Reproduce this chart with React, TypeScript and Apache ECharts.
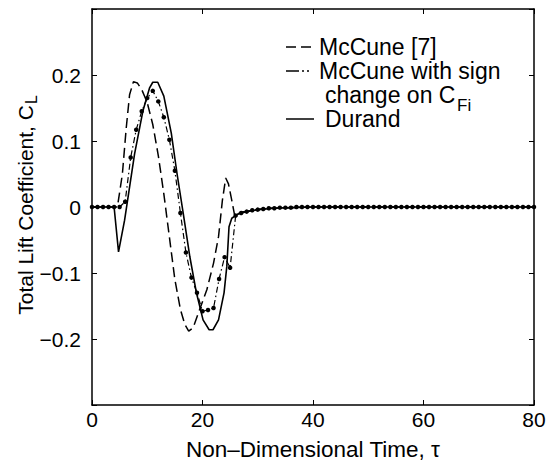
import React, { useEffect, useRef } from "react";
import * as echarts from "echarts";

const FONT = '"Liberation Sans", Arial, Helvetica, sans-serif';

const xTicks = [0, 20, 40, 60, 80];
const yTicks = [-0.2, -0.1, 0, 0.1, 0.2];

// McCune [7] (dashed)
const mccune: [number, number][] = [
  [0, 0], [4.6, 0], [5.5, 0.05], [6.2, 0.12], [6.8, 0.17], [7.5, 0.19], [8.2, 0.188],
  [9, 0.178], [10, 0.158], [11, 0.125], [12, 0.078], [13, 0.02], [14, -0.045],
  [15, -0.11], [16, -0.155], [16.8, -0.178], [17.5, -0.188], [18.3, -0.183],
  [19.5, -0.155], [20.8, -0.125], [22, -0.085], [22.9, -0.045], [23.6, 0.01],
  [24.2, 0.044], [24.7, 0.035], [25.3, 0.01], [25.8, -0.012], [27, -0.008],
  [29, -0.005], [32, -0.002], [36, -0.001], [40, 0], [80, 0],
];

// McCune with sign change on C_Fi (dash-dot with dots), one point per unit of tau
const signTau: number[] = [
  0, 1, 2, 3, 4, 5, 6, 7, 8, 9, 10, 11, 12, 13, 14, 15, 16, 17, 18, 19, 20,
  21, 22, 23, 24, 25, 26, 27, 28, 29, 30, 31, 32, 33, 34, 35, 36, 37, 38, 39, 40,
  41, 42, 43, 44, 45, 46, 47, 48, 49, 50, 51, 52, 53, 54, 55, 56, 57, 58, 59, 60,
  61, 62, 63, 64, 65, 66, 67, 68, 69, 70, 71, 72, 73, 74, 75, 76, 77, 78, 79, 80,
];
const signCL: number[] = [
  0, 0, 0, 0, 0, 0, 0.008, 0.075, 0.117, 0.145, 0.165, 0.176, 0.16, 0.136, 0.102, 0.055,
  -0.009, -0.069, -0.107, -0.13, -0.158, -0.156, -0.153, -0.109, -0.076, -0.092,
  -0.013, -0.009, -0.007, -0.005, -0.004, -0.003, -0.002, -0.002, -0.001, -0.001, -0.001,
  0, 0, 0, 0,
  0, 0, 0, 0, 0, 0, 0, 0, 0, 0, 0, 0, 0, 0, 0, 0, 0, 0, 0, 0,
  0, 0, 0, 0, 0, 0, 0, 0, 0, 0, 0, 0, 0, 0, 0, 0, 0, 0, 0, 0,
];

// Durand (solid)
const durand: [number, number][] = [
  [0, 0], [4, 0], [4.8, -0.068], [5.9, -0.02], [7.7, 0.08], [9.2, 0.145], [10.4, 0.18],
  [11, 0.189], [11.9, 0.189], [13, 0.168], [14.35, 0.112], [15.4, 0.05], [16.5, -0.009],
  [17.7, -0.075], [18.9, -0.13], [20.1, -0.171], [21.2, -0.186], [21.9, -0.186],
  [22.9, -0.171], [23.9, -0.13], [24.4, -0.09], [24.8, -0.03], [25.3, -0.017],
  [26.5, -0.01], [28, -0.007], [30, -0.004], [33, -0.002], [36, -0.001], [40, 0], [80, 0],
];

const legendLabels = ["McCune [7]", "McCune with sign", "change on C", "Fi", "Durand"];
const yTitle = "Total Lift Coefficient, C";
const yTitleSub = "L";
const xTitle = "Non\u2013Dimensional Time, \u03c4";

function fmtY(v: number): string {
  const r = Math.round(v * 10) / 10;
  if (!yTicks.some((t) => Math.abs(t - r) < 1e-9)) return "";
  if (r === 0) return "0";
  return r < 0 ? "\u2212" + Math.abs(r).toFixed(1) : r.toFixed(1);
}

function fmtX(v: number): string {
  return xTicks.includes(Math.round(v)) ? String(Math.round(v)) : "";
}

export default function App() {
  const ref = useRef<HTMLDivElement>(null);

  useEffect(() => {
    if (!ref.current) return;
    const chart = echarts.init(ref.current, null, { renderer: "svg" });
    const black = "#000";
    const axisCommon = {
      axisLine: { show: true, onZero: false, lineStyle: { color: black, width: 1.5 } },
      axisTick: { show: true, inside: true, length: 5, lineStyle: { color: black, width: 1 } },
      splitLine: { show: false },
    };
    const textBase = { fontFamily: FONT, fill: black };

    chart.setOption({
      animation: false,
      backgroundColor: "#fff",
      grid: { left: 92, right: 15, top: 9, bottom: 64, containLabel: false, outerBoundsMode: "none" },
      xAxis: [
        {
          type: "value",
          min: 0,
          max: 80,
          interval: 20,
          position: "bottom",
          ...axisCommon,
          axisLabel: { formatter: fmtX, color: black, fontSize: 21, fontFamily: FONT, margin: 4 },
          name: xTitle,
          nameLocation: "middle",
          nameGap: 33,
          nameTextStyle: { color: black, fontSize: 22.5, fontFamily: FONT },
        },
        {
          type: "value",
          min: 0,
          max: 80,
          interval: 20,
          position: "top",
          ...axisCommon,
          axisLabel: { show: false },
        },
      ],
      yAxis: [
        {
          type: "value",
          min: -0.3,
          max: 0.3,
          interval: 0.1,
          position: "left",
          ...axisCommon,
          axisLabel: { formatter: fmtY, color: black, fontSize: 21, fontFamily: FONT, margin: 11 },
        },
        {
          type: "value",
          min: -0.3,
          max: 0.3,
          interval: 0.1,
          position: "right",
          ...axisCommon,
          axisLabel: { show: false },
        },
      ],
      series: [
        {
          name: "McCune [7]",
          type: "line",
          data: mccune,
          symbol: "none",
          lineStyle: { color: black, width: 1.5, type: [10, 5] },
          z: 2,
        },
        {
          name: "McCune with sign change on C_Fi",
          type: "line",
          data: signTau.map((t, i) => [t, signCL[i]]),
          symbol: "circle",
          symbolSize: 4.5,
          itemStyle: { color: black },
          lineStyle: { color: black, width: 1.2, type: [6, 3, 1.5, 3] },
          z: 3,
        },
        {
          name: "Durand",
          type: "line",
          data: durand,
          symbol: "none",
          lineStyle: { color: black, width: 1.6 },
          z: 4,
        },
      ],
      graphic: [
        {
          type: "text",
          x: 25,
          y: 205,
          rotation: Math.PI / 2,
          style: {
            ...textBase,
            text: "{a|" + yTitle + "}{s|" + yTitleSub + "}",
            align: "center",
            verticalAlign: "middle",
            rich: {
              a: { fontSize: 21, lineHeight: 21, fontFamily: FONT, fill: black },
              s: { fontSize: 16, lineHeight: 16, padding: [13, 0, 0, 1], fontFamily: FONT, fill: black },
            },
          },
        },
        { type: "line", shape: { x1: 286, y1: 47, x2: 313, y2: 47 }, style: { stroke: black, lineWidth: 1.5, lineDash: [10, 5] } },
        { type: "text", x: 319, y: 47, style: { ...textBase, text: legendLabels[0], fontSize: 23, verticalAlign: "middle" } },
        { type: "line", shape: { x1: 286, y1: 71, x2: 313, y2: 71 }, style: { stroke: black, lineWidth: 1.5, lineDash: [13, 3, 2, 3, 2, 20] } },
        { type: "text", x: 319, y: 71, style: { ...textBase, text: legendLabels[1], fontSize: 23, verticalAlign: "middle" } },
        { type: "text", x: 325, y: 95, style: { ...textBase, text: legendLabels[2], fontSize: 23, verticalAlign: "middle" } },
        { type: "text", x: 457, y: 105, style: { ...textBase, text: legendLabels[3], fontSize: 17, verticalAlign: "middle" } },
        { type: "line", shape: { x1: 286, y1: 119, x2: 314, y2: 119 }, style: { stroke: black, lineWidth: 1.5 } },
        { type: "text", x: 325, y: 119, style: { ...textBase, text: legendLabels[4], fontSize: 23, verticalAlign: "middle" } },
      ],
    });
    return () => chart.dispose();
  }, []);

  return <div ref={ref} style={{ width: 549, height: 469, position: "absolute", left: 0, top: 0 }} />;
}
